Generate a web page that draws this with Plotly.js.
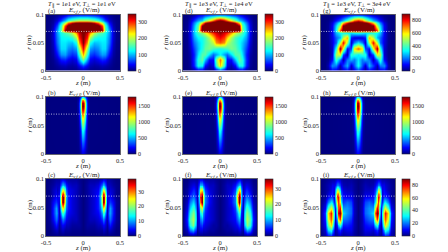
<!DOCTYPE html>
<html><head><meta charset="utf-8">
<script src="https://cdn.plot.ly/plotly-3.0.1.min.js"></script>
<style>html,body{margin:0;padding:0;background:#fff}#c{width:448px;height:252px}</style>
</head><body><div id="c"></div>
<script>
const zTop=[0,.05,.1,.15,.2,.25,.3,.35,.4,.45,.5];
const rTop=[0,.01,.02,.03,.04,.05,.06,.068,.072,.08,.085,.09,.1];
const zMid=[0,.01,.02,.03,.04,.05,.07,.1,.5];
const rMid=[0,.02,.04,.06,.07,.08,.085,.09,.095,.1];
const zLow=[0,.05,.1,.15,.2,.23,.25,.27,.29,.31,.33,.35,.37,.4,.45,.5];
const rLow=[0,.01,.02,.03,.04,.05,.06,.07,.08,.09,.1];
const lineZ=[-0.5,0.5];
const lineR=[0.07,0.07];

const panelA=[
[0,0,0,0,0,0,0,0,0,0,0],
[60,35,15,10,12,18,15,8,2,0,0],
[170,90,35,25,35,50,45,20,5,1,0],
[250,140,60,50,65,90,85,40,10,2,0],
[310,190,90,75,85,110,110,60,15,3,0],
[345,260,130,100,105,115,115,75,20,4,0],
[350,300,190,140,125,125,120,80,25,5,0],
[350,325,260,200,165,150,130,88,25,5,0],
[420,420,410,400,380,340,160,90,25,5,0],
[420,420,420,400,370,290,150,60,15,3,0],
[360,360,350,320,270,190,110,40,10,3,0],
[200,200,190,170,140,100,60,25,8,2,0],
[40,40,38,35,30,20,10,5,2,0,0]];
const panelD=[
[0,0,0,0,0,0,0,0,0,0,0],
[240,140,30,15,40,120,130,50,8,1,0],
[270,170,40,40,100,160,135,55,10,2,0],
[120,90,70,110,155,155,115,50,12,3,0],
[130,140,150,170,160,130,100,60,18,4,0],
[280,260,200,170,150,125,105,75,25,5,0],
[310,290,240,190,150,130,120,90,30,6,0],
[340,320,300,260,210,180,150,105,35,7,0],
[430,430,430,430,400,380,175,105,35,7,0],
[430,430,430,430,410,340,160,95,30,6,0],
[430,430,420,380,320,230,130,80,25,5,0],
[370,330,280,220,170,110,90,55,20,4,0],
[60,60,55,50,45,35,25,10,4,1,0]];
const panelG=[
[100,60,10,60,40,10,40,60,10,0,0],
[330,170,60,250,150,40,200,220,40,2,0],
[300,200,250,200,40,200,380,100,12,1,0],
[300,350,350,40,150,550,500,60,8,1,0],
[720,600,150,100,550,880,350,60,8,1,0],
[300,200,60,500,800,500,180,70,12,2,0],
[60,70,120,650,500,250,180,80,15,2,0],
[350,330,300,300,330,320,260,90,15,2,0],
[1000,1000,1000,1000,950,750,330,90,15,2,0],
[1000,1000,1000,1000,900,500,280,90,15,2,0],
[1000,1000,950,800,600,350,200,70,12,2,0],
[800,720,550,380,260,180,110,40,8,1,0],
[100,95,85,70,50,30,15,6,2,0,0]];
const panelB=[
[125,120,105,75,40,20,8,2,0],
[350,340,290,200,110,55,15,3,0],
[620,600,510,340,180,85,25,5,0],
[1060,1030,880,610,320,150,40,5,0],
[1360,1330,1150,810,430,200,55,5,0],
[1700,1660,1440,1020,540,250,70,5,0],
[1770,1730,1500,1060,560,260,70,5,0],
[1730,1690,1470,1040,550,255,70,5,0],
[1380,1350,1170,830,440,200,55,3,0],
[620,600,520,370,195,90,25,0,0]];
const panelE=[
[125,120,105,75,40,20,8,2,0],
[350,340,290,200,110,55,15,3,0],
[630,610,520,340,180,85,25,5,0],
[1080,1050,900,620,320,150,40,5,0],
[1400,1370,1180,830,430,200,55,5,0],
[1720,1680,1450,1020,540,250,70,5,0],
[1770,1730,1490,1050,560,260,70,5,0],
[1700,1660,1430,1010,540,250,70,5,0],
[1300,1270,1100,780,420,190,50,3,0],
[600,580,500,350,190,90,25,0,0]];
const panelH=[
[170,165,145,110,65,35,12,4,0],
[400,390,340,250,150,80,25,8,0],
[700,680,590,430,250,130,40,10,0],
[1150,1120,980,710,410,210,60,10,0],
[1480,1440,1270,930,540,270,80,10,0],
[1730,1690,1490,1090,640,320,95,10,0],
[1770,1730,1520,1120,650,320,95,10,0],
[1710,1670,1470,1080,630,310,90,8,0],
[1350,1320,1160,850,490,240,70,5,0],
[650,630,560,410,240,115,30,0,0]];
const panelC=[
[0,0,0,0,0,0,0,0,0,0,0,0,0,0,0,0],
[0,.5,.5,.5,1,1,1,2,2,1,.5,2,2,1,0,0],
[0,1,1,1,2,2,3,4,4,2,1,4,5,2,.5,0],
[0,1,2,2,3,4,6,9,8,3,2,7,8,4,1,0],
[0,1,2,3,4,6,10,16,15,6,2,9,10,5,1,0],
[0,1,2,3,5,8,15,26,24,9,2,8,10,5,1,0],
[0,1,2,3,5,10,22,38,36,14,3,5,6,4,1,0],
[0,1,2,3,5,11,24,38,36,15,4,3,4,2,.5,0],
[0,1,2,3,4,8,16,24,22,10,3,2,3,2,.5,0],
[0,1,2,2,3,5,8,11,10,5,2,2,2,1,.5,0],
[0,.5,1,1,1,1.5,2,3,3,2,1,1,1,.5,0,0]];
const panelF=[
[0,0,0,0,0,0,0,0,0,0,0,0,0,0,0,0],
[0,.5,1,1,2,2,3,3,2,1,5,8,10,8,2,0],
[0,1,1,2,3,4,6,5,3,2,9,15,18,14,4,0],
[0,1,2,3,4,7,10,8,4,2,11,18,20,16,5,0],
[0,1,2,3,5,9,15,12,5,2,10,17,18,14,4,0],
[0,1,2,3,6,13,22,18,7,2,8,14,15,11,3,0],
[0,1,2,4,8,20,37,28,10,2,6,10,11,8,2,0],
[0,1,2,4,8,24,36,32,12,2,4,7,7,5,1,0],
[0,1,2,3,6,14,24,22,10,2,3,5,5,3,1,0],
[0,1,2,2,4,7,10,10,6,2,2,3,3,2,.5,0],
[0,.5,1,1,1,2,3,3,2,1,1,1,1,1,0,0]];
const panelI=[
[0,2,4,3,2,3,4,3,2,2,4,8,12,10,3,0],
[0,3,8,8,6,10,14,10,6,3,10,25,35,28,6,1],
[0,4,10,12,12,28,36,26,12,4,18,48,60,42,9,2],
[0,4,14,18,20,55,75,60,25,6,28,62,72,55,12,2],
[0,5,18,22,28,72,90,82,40,8,32,65,78,60,14,2],
[0,5,18,22,22,55,80,72,40,12,24,48,55,38,9,2],
[0,4,15,18,14,30,58,75,60,20,12,28,30,20,5,1],
[0,3,8,8,10,20,50,80,75,28,6,12,12,8,2,0],
[0,2,5,5,7,14,28,50,50,22,8,10,8,4,2,0],
[0,2,4,3,4,8,14,20,20,10,8,8,6,4,2,0],
[0,1,2,2,2,3,5,6,6,4,3,3,3,2,1,0]];

const topTitles=['<i>T</i><sub>∥</sub> = 1e1 eV, <i>T</i><sub>⊥</sub> = 1e1 eV','<i>T</i><sub>∥</sub> = 1e3 eV, <i>T</i><sub>⊥</sub> = 1e4 eV','<i>T</i><sub>∥</sub> = 1e3 eV, <i>T</i><sub>⊥</sub> = 3e4 eV'];
const rowTitles=['<i>E<sub>v,f,r</sub></i> (V/m)','<i>E<sub>v,f,θ</sub></i> (V/m)','<i>E<sub>v,f,z</sub></i> (V/m)'];
const letters=['(a)','(d)','(g)','(b)','(e)','(h)','(c)','(f)','(i)'];
const zmaxes=[345,345,895,1770,1770,1770,38.5,36,89];
const dticks=[100,100,200,500,500,500,10,10,20];

const W=448,H=252;
const colL=[46,183,321], colW=74, cbL=[127.5,265,402], cbW=7.5;
const rowT=[14.5,97,179], rowH=[56.5,57,57];
const jet=[[0,'#000080'],[.11,'#0000ff'],[.35,'#00ffff'],[.5,'#80ff80'],[.65,'#ffff00'],[.89,'#ff0000'],[1,'#800000']];
const font='"Liberation Serif",serif', ink='#222';

const grids=[
 [panelA,zTop,rTop],[panelD,zTop,rTop],[panelG,zTop,rTop],
 [panelB,zMid,rMid],[panelE,zMid,rMid],[panelH,zMid,rMid],
 [panelC,zLow,rLow],[panelF,zLow,rLow],[panelI,zLow,rLow]];

const mirrorX=a=>a.slice(1).reverse().map(v=>-v).concat(a);
const mirrorRow=a=>a.slice(1).reverse().concat(a);
const data=[],annotations=[];
const layout={width:W,height:H,margin:{l:0,r:0,t:0,b:0},paper_bgcolor:'#fff',plot_bgcolor:'#fff',showlegend:false,font:{family:font,size:6.5,color:ink}};
const note=(px,py,text,size,extra)=>annotations.push(Object.assign({xref:'paper',yref:'paper',x:px/W,y:1-py/H,text:text,showarrow:false,font:{family:font,size:size,color:ink},xanchor:'center',yanchor:'middle'},extra||{}));

grids.forEach((g,i)=>{
  const row=Math.floor(i/3),col=i%3,n=i+1,sfx=n===1?'':n;
  const x0=colL[col]/W,x1=(colL[col]+colW)/W;
  const y1=1-rowT[row]/H,y0=1-(rowT[row]+rowH[row])/H;
  const axis={showgrid:false,zeroline:false,showline:true,mirror:true,linecolor:'#223',linewidth:.7,ticks:'',tickfont:{family:font,size:6.5,color:ink}};
  layout['xaxis'+sfx]=Object.assign({},axis,{domain:[x0,x1],range:[-.5,.5],anchor:'y'+sfx,tickvals:[-.5,0,.5],ticktext:['-0.5','0','0.5']});
  layout['yaxis'+sfx]=Object.assign({},axis,{domain:[y0,y1],range:[0,.1],anchor:'x'+sfx,tickvals:[0,.05,.1],ticktext:['0','0.05','0.1']});
  data.push({type:'heatmap',x:mirrorX(g[1]),y:g[2],z:g[0].map(mirrorRow),xaxis:'x'+sfx,yaxis:'y'+sfx,zsmooth:'best',zmin:0,zmax:zmaxes[i],zauto:false,colorscale:jet,hoverinfo:'skip',
    colorbar:{x:cbL[col]/W,xanchor:'left',y:y0,yanchor:'bottom',len:rowH[row]/H,lenmode:'fraction',thickness:cbW,thicknessmode:'pixels',xpad:0,ypad:0,outlinewidth:.6,outlinecolor:'#223',ticks:'',dtick:dticks[i],tick0:0,tickfont:{family:font,size:6,color:ink}}});
  data.push({type:'scatter',mode:'lines',x:lineZ,y:lineR,xaxis:'x'+sfx,yaxis:'y'+sfx,line:{color:'rgba(255,255,255,.85)',width:.8,dash:'1px,1.5px'},hoverinfo:'skip'});
  note(colL[col]+colW/2+1,rowT[row]-3.8,rowTitles[row],7);
  note(colL[col],rowT[row]-3.8,letters[i],6.5,{xanchor:'left'});
  note(colL[col]+colW/2,rowT[row]+rowH[row]+12,'<i>z</i> (m)',7);
  note(colL[col]-17,rowT[row]+rowH[row]/2,'<i>r</i> (m)',7,{textangle:-90});
  if(row===0) note(colL[col]+colW/2-1,4.6,topTitles[col],6.5);
});
layout.annotations=annotations;
Plotly.newPlot('c',data,layout,{displayModeBar:false,staticPlot:true});
</script></body></html>
